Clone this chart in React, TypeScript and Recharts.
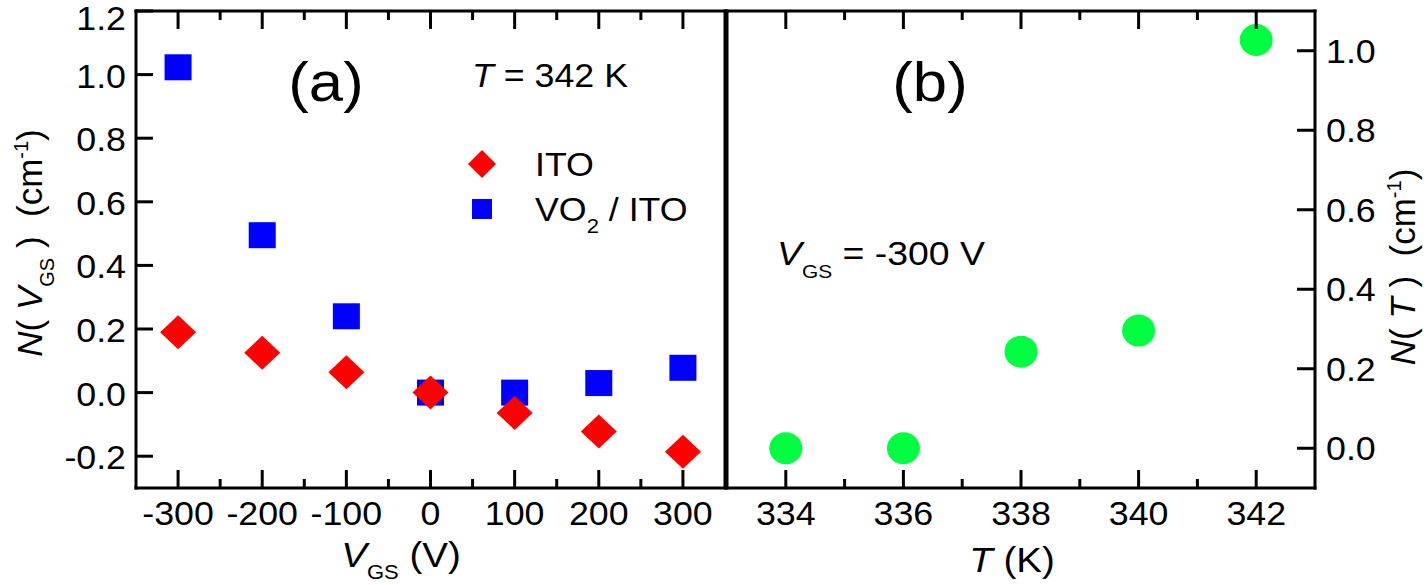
import React from 'react';
import { ScatterChart, Scatter, XAxis, YAxis, Legend } from 'recharts';

// ---------- data ----------
const vgsValues = [-300, -200, -100, 0, 100, 200, 300];
const itoValues = [0.19, 0.125, 0.064, 0.0, -0.064, -0.122, -0.186];
const vo2ItoValues = [1.023, 0.495, 0.24, 0.0, 0.0, 0.03, 0.078];
const tempValues = [334, 336, 338, 340, 342];
const tempNValues = [0.0, 0.0, 0.243, 0.296, 1.027];

const xTicksA = [-300, -250, -200, -150, -100, -50, 0, 50, 100, 150, 200, 250, 300];
const xLabelsA = [-300, -200, -100, 0, 100, 200, 300];
const yTicksA = [-0.2, 0, 0.2, 0.4, 0.6, 0.8, 1.0, 1.2];
const xTicksB = [334, 335, 336, 337, 338, 339, 340, 341, 342];
const xLabelsB = [334, 336, 338, 340, 342];
const yTicksB = [0, 0.2, 0.4, 0.6, 0.8, 1.0];
const seriesNames = ['ITO', 'VO2 / ITO'];

const itoData = vgsValues.map((v, i) => ({ x: v, y: itoValues[i] }));
const vo2Data = vgsValues.map((v, i) => ({ x: v, y: vo2ItoValues[i] }));
const tempData = tempValues.map((t, i) => ({ x: t, y: tempNValues[i] }));

// ---------- style ----------
const FONT = '"Liberation Sans", Arial, Helvetica, sans-serif';
const FS = 32.5;
const SX = 1.1;
const LW = 3;
const axisLineStyle = { stroke: '#000', strokeWidth: LW, strokeLinecap: 'square' as const };

const ST = ({ x, y, anchor, size, children, style }: any) => (
  <text
    transform={`translate(${x} ${y}) scale(${SX} 1)`}
    textAnchor={anchor}
    fontSize={size}
    fontFamily={FONT}
    fill="#000"
    style={{ whiteSpace: 'pre', ...(style || {}) }}
  >
    {children}
  </text>
);

const makeBottomTick = (labels: number[]) => (p: any) => {
  const { x, y, payload } = p;
  const major = labels.includes(payload.value);
  return (
    <g>
      <line x1={x} x2={x} y1={y} y2={y - (major ? 18 : 9)} stroke="#000" strokeWidth={LW} />
      {major && (
        <ST x={x} y={y + 37} anchor="middle" size={FS}>
          {String(payload.value)}
        </ST>
      )}
    </g>
  );
};

const makeTopTick = (labels: number[]) => (p: any) => {
  const { x, y, payload } = p;
  const major = labels.includes(payload.value);
  return <line x1={x} x2={x} y1={y} y2={y + (major ? 18 : 9)} stroke="#000" strokeWidth={LW} />;
};

const LeftTick = (p: any) => {
  const { x, y, payload } = p;
  return (
    <g>
      <line x1={x + 10} x2={x + 27} y1={y} y2={y} stroke="#000" strokeWidth={LW} />
      <ST x={x} y={Math.max(y + 13, 30)} anchor="end" size={FS}>
        {Number(payload.value).toFixed(1)}
      </ST>
    </g>
  );
};

const RightTick = (p: any) => {
  const { x, y, payload } = p;
  return (
    <g>
      <line x1={x} x2={x - 18} y1={y} y2={y} stroke="#000" strokeWidth={LW} />
      <ST x={x + 11} y={y + 12} anchor="start" size={FS}>
        {Number(payload.value).toFixed(1)}
      </ST>
    </g>
  );
};

const DiamondShape = (p: any) => {
  const { cx, cy } = p;
  if (cx == null || cy == null) return <g />;
  return (
    <polygon
      points={`${cx},${cy - 17} ${cx + 18},${cy} ${cx},${cy + 17} ${cx - 18},${cy}`}
      fill="#ff0000"
    />
  );
};

const SquareShape = (p: any) => {
  const { cx, cy } = p;
  if (cx == null || cy == null) return <g />;
  return <rect x={cx - 13.5} y={cy - 13} width={27} height={26} fill="#0000ff" />;
};

const CircleShape = (p: any) => {
  const { cx, cy } = p;
  if (cx == null || cy == null) return <g />;
  return <ellipse cx={cx} cy={cy} rx={16.5} ry={16} fill="#00ff40" />;
};

const EmptyShape = () => <g />;

const LegendContent = () => (
  <svg width={270} height={110} style={{ overflow: 'visible' }}>
    <polygon points="22,10 36,24 22,38 8,24" fill="#ff0000" />
    <rect x={12} y={59} width={20} height={20} fill="#0000ff" />
    <ST x={75} y={36} anchor="start" size={FS}>
      {seriesNames[0]}
    </ST>
    <ST x={75} y={81} anchor="start" size={FS}>
      <tspan>VO</tspan>
      <tspan fontSize={20} dy={12}>2</tspan>
      <tspan dy={-12}> / ITO</tspan>
    </ST>
  </svg>
);

export default function App() {
  return (
    <div
      style={{
        position: 'absolute',
        left: 0,
        top: 0,
        width: 1428,
        height: 585,
        background: '#fff',
        fontFamily: FONT,
        overflow: 'hidden',
      }}
    >
      {/* Panel (a) */}
      <div style={{ position: 'absolute', left: 0, top: 0 }}>
        <ScatterChart width={760} height={585} margin={{ top: 1, right: 34, bottom: 0, left: 0 }}>
          <XAxis
            xAxisId="b"
            type="number"
            dataKey="x"
            domain={[-350, 350]}
            ticks={xTicksA}
            interval={0}
            orientation="bottom"
            height={97}
            tickSize={0}
            tickMargin={0}
            tickLine={false}
            axisLine={axisLineStyle}
            tick={makeBottomTick(xLabelsA)}
            allowDataOverflow
          />
          <XAxis
            xAxisId="t"
            type="number"
            dataKey="x"
            domain={[-350, 350]}
            ticks={xTicksA}
            interval={0}
            orientation="top"
            height={10}
            tickSize={0}
            tickMargin={0}
            tickLine={false}
            axisLine={axisLineStyle}
            tick={makeTopTick(xLabelsA)}
            allowDataOverflow
          />
          <YAxis
            yAxisId="l"
            type="number"
            dataKey="y"
            domain={[-0.3, 1.2]}
            ticks={yTicksA}
            interval={0}
            width={136}
            tickSize={0}
            tickMargin={10}
            tickLine={false}
            axisLine={axisLineStyle}
            tick={LeftTick}
            allowDataOverflow
          />
          <YAxis
            yAxisId="r"
            orientation="right"
            type="number"
            dataKey="y"
            domain={[-0.3, 1.2]}
            width={1}
            tick={false}
            tickLine={false}
            axisLine={axisLineStyle}
            allowDataOverflow
          />
          <Scatter
            xAxisId="t"
            yAxisId="r"
            data={vo2Data}
            shape={EmptyShape}
            legendType="none"
            isAnimationActive={false}
          />
          <Scatter
            name={seriesNames[1]}
            xAxisId="b"
            yAxisId="l"
            data={vo2Data}
            shape={SquareShape}
            isAnimationActive={false}
          />
          <Scatter
            name={seriesNames[0]}
            xAxisId="b"
            yAxisId="l"
            data={itoData}
            shape={DiamondShape}
            isAnimationActive={false}
          />
          <Legend
            layout="vertical"
            align="center"
            verticalAlign="middle"
            wrapperStyle={{ position: 'absolute', left: 460, top: 140, width: 270, height: 110 }}
            content={LegendContent}
          />
        </ScatterChart>
      </div>

      {/* Panel (b) */}
      <div style={{ position: 'absolute', left: 700, top: 0 }}>
        <ScatterChart width={728} height={585} margin={{ top: 1, right: 0, bottom: 0, left: 26 }}>
          <XAxis
            xAxisId="b"
            type="number"
            dataKey="x"
            domain={[333, 343]}
            ticks={xTicksB}
            interval={0}
            orientation="bottom"
            height={97}
            tickSize={0}
            tickMargin={0}
            tickLine={false}
            axisLine={axisLineStyle}
            tick={makeBottomTick(xLabelsB)}
            allowDataOverflow
          />
          <XAxis
            xAxisId="t"
            type="number"
            dataKey="x"
            domain={[333, 343]}
            ticks={xTicksB}
            interval={0}
            orientation="top"
            height={10}
            tickSize={0}
            tickMargin={0}
            tickLine={false}
            axisLine={axisLineStyle}
            tick={makeTopTick(xLabelsB)}
            allowDataOverflow
          />
          <YAxis
            yAxisId="l"
            orientation="left"
            type="number"
            dataKey="y"
            domain={[-0.1, 1.1]}
            width={1}
            tick={false}
            tickLine={false}
            axisLine={axisLineStyle}
            allowDataOverflow
          />
          <YAxis
            yAxisId="r"
            orientation="right"
            type="number"
            dataKey="y"
            domain={[-0.1, 1.1]}
            ticks={yTicksB}
            interval={0}
            width={113}
            tickSize={0}
            tickMargin={0}
            tickLine={false}
            axisLine={axisLineStyle}
            tick={RightTick}
            allowDataOverflow
          />
          <Scatter
            xAxisId="t"
            yAxisId="l"
            data={tempData}
            shape={EmptyShape}
            legendType="none"
            isAnimationActive={false}
          />
          <Scatter
            name="N(T)"
            xAxisId="b"
            yAxisId="r"
            data={tempData}
            shape={CircleShape}
            isAnimationActive={false}
          />
        </ScatterChart>
      </div>

      {/* Titles and annotations */}
      <svg
        width={1428}
        height={585}
        style={{ position: 'absolute', left: 0, top: 0, pointerEvents: 'none' }}
      >
        <ST x={326} y={101} anchor="middle" size={56}>(a)</ST>
        <ST x={930} y={101} anchor="middle" size={56}>(b)</ST>
        <ST x={472} y={87} anchor="start" size={FS}>
          <tspan fontStyle="italic">T</tspan>
          <tspan> = 342 K</tspan>
        </ST>
        <ST x={777} y={265} anchor="start" size={34}>
          <tspan fontStyle="italic">V</tspan>
          <tspan fontSize={19} dy={13}>GS</tspan>
          <tspan dy={-13}> = -300 V</tspan>
        </ST>
        <ST x={401} y={567} anchor="middle" size={35}>
          <tspan fontStyle="italic">V</tspan>
          <tspan fontSize={20} dy={12}>GS</tspan>
          <tspan dy={-12}> (V)</tspan>
        </ST>
        <ST x={1012} y={572} anchor="middle" size={35}>
          <tspan fontStyle="italic">T</tspan>
          <tspan> (K)</tspan>
        </ST>
        <text
          transform="translate(42 243) rotate(-90)"
          textAnchor="middle"
          fontSize={35}
          fontFamily={FONT}
          style={{ whiteSpace: 'pre' }}
        >
          <tspan fontStyle="italic">N</tspan>
          <tspan>( </tspan>
          <tspan fontStyle="italic">V</tspan>
          <tspan fontSize={20} dy={12}>GS</tspan>
          <tspan dy={-12}> )  (cm</tspan>
          <tspan fontSize={20} dy={-14}>-1</tspan>
          <tspan dy={14}>)</tspan>
        </text>
        <text
          transform="translate(1415 267) rotate(-90)"
          textAnchor="middle"
          fontSize={35}
          fontFamily={FONT}
          style={{ whiteSpace: 'pre' }}
        >
          <tspan fontStyle="italic">N</tspan>
          <tspan>( </tspan>
          <tspan fontStyle="italic">T</tspan>
          <tspan> )  (cm</tspan>
          <tspan fontSize={20} dy={-14}>-1</tspan>
          <tspan dy={14}>)</tspan>
        </text>
      </svg>
    </div>
  );
}
